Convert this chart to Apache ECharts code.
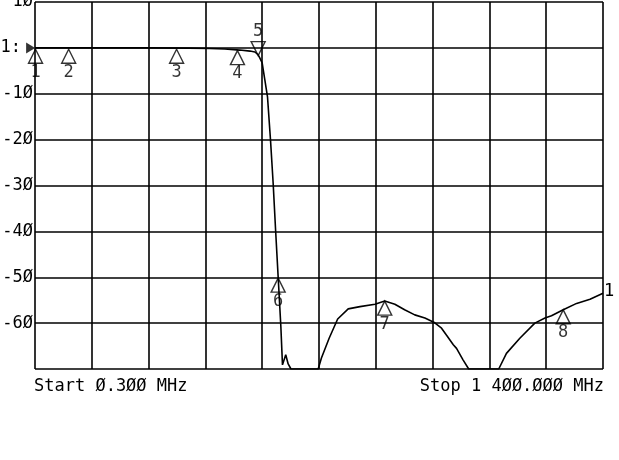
<!DOCTYPE html>
<html>
<head>
<meta charset="utf-8">
<script src="https://cdn.jsdelivr.net/npm/echarts@6/dist/echarts.min.js"></script>
<style>
html,body{margin:0;padding:0;background:#fff;}
#main{width:619px;height:460px;}
</style>
</head>
<body>
<div id="main"></div>
<script>
// Trace 1: frequency (MHz) and level (dB)
const freqMHz = [0.3, 80, 160, 283, 380, 431, 468, 505, 530, 542, 550, 554, 560, 566.5, 573, 580.5, 587, 593, 599.3, 606, 610, 618, 624, 631,
  698, 706, 725, 746, 772, 801, 838, 862, 887, 911, 936, 961, 983, 1002, 1014, 1031, 1039, 1055, 1069,
  1143, 1162, 1195, 1232, 1257, 1273, 1302, 1335, 1368, 1400];
const levelDb = [0, 0, 0, 0, -0.05, -0.15, -0.26, -0.48, -0.7, -0.9, -1.5, -2.2, -3.3, -7.0, -10.6, -20.1, -29.5, -39.7, -49.9, -60.8, -69.1, -66.9, -68.9, -70,
  -70, -67.6, -63.3, -59.1, -56.9, -56.4, -55.9, -55.2, -55.9, -57.1, -58.2, -58.9, -59.8, -61.1, -62.6, -64.7, -65.5, -68.0, -70,
  -70, -66.6, -63.3, -60.0, -58.9, -58.4, -57.1, -55.7, -54.8, -53.5];

// Markers
const markerIds = ['1', '2', '3', '4', '5', '6', '7', '8'];
const markerFreq = [1.3, 83, 349, 499, 550, 599.3, 862, 1302];
const markerDb = [-0.3, -0.3, -0.3, -0.6, -1.7, -50.2, -55.2, -57.1];

// Axis
const yTickValues = [10, 0, -10, -20, -30, -40, -50, -60, -70];
const yTickLabels = ['1Ø', '1:', '-1Ø', '-2Ø', '-3Ø', '-4Ø', '-5Ø', '-6Ø', ''];
const startText = 'Start Ø.3ØØ MHz';
const stopText = 'Stop 1 4ØØ.ØØØ MHz';
const traceName = '1';
const refLevel = 0;

const FONT = 'DejaVu Sans Mono';
const FS = 17;
const chart = echarts.init(document.getElementById('main'), null, {renderer: 'canvas'});

const markerData = markerIds.map((id, i) => {
  const down = id === '5';
  return {
    value: [markerFreq[i], markerDb[i]],
    name: id,
    symbolRotate: down ? 180 : 0,
    symbolOffset: down ? [0, -7] : [0, 7],
    label: {position: down ? 'top' : 'bottom', distance: down ? 1 : 0}
  };
});

chart.setOption({
  animation: false,
  backgroundColor: '#fff',
  grid: {left: 35, top: 2, width: 568, height: 367, containLabel: false, outerBoundsMode: 'none'},
  xAxis: {
    type: 'value', min: 0, max: 1400, interval: 140,
    axisLine: {show: false}, axisTick: {show: false}, axisLabel: {show: false},
    splitLine: {show: true, lineStyle: {color: '#000', width: 1.6}}
  },
  yAxis: {
    type: 'value', min: -70, max: 10, interval: 10,
    axisLine: {show: false}, axisTick: {show: false},
    splitLine: {show: true, lineStyle: {color: '#000', width: 1.6}},
    axisLabel: {
      margin: 2, fontFamily: FONT, fontSize: FS, color: '#000',
      formatter: v => {
        const idx = yTickValues.indexOf(v);
        const t = idx >= 0 ? yTickLabels[idx] : '';
        return v === refLevel ? '{ref|' + t + '}' : t;
      },
      rich: {ref: {fontFamily: FONT, fontSize: FS, color: '#000', padding: [0, 12, 0, 0]}}
    }
  },
  series: [
    {
      type: 'line', data: freqMHz.map((f, i) => [f, levelDb[i]]),
      symbol: 'none', lineStyle: {color: '#000', width: 1.6},
      endLabel: {show: true, formatter: traceName, fontFamily: FONT, fontSize: FS, color: '#000', distance: 1, offset: [0, -2]},
      z: 3
    },
    {
      type: 'scatter', data: markerData,
      symbol: 'triangle', symbolSize: [14, 14],
      itemStyle: {color: 'rgba(0,0,0,0)', borderColor: '#000', borderWidth: 1.4},
      label: {show: true, formatter: p => p.name, fontFamily: FONT, fontSize: FS, color: '#000'},
      z: 4
    },
    {
      type: 'scatter', data: [[0.3, refLevel]],
      symbol: 'path://M0,0L10,5L0,10Z', symbolSize: [9, 11], symbolOffset: [-4.5, 0],
      itemStyle: {color: '#000'}, z: 5
    }
  ],
  graphic: [
    {type: 'text', left: 34, top: 378, style: {text: startText, font: FS + 'px "DejaVu Sans Mono"', fill: '#000'}},
    {type: 'text', right: 15, top: 378, style: {text: stopText, font: FS + 'px "DejaVu Sans Mono"', fill: '#000'}}
  ]
});
</script>
</body>
</html>
